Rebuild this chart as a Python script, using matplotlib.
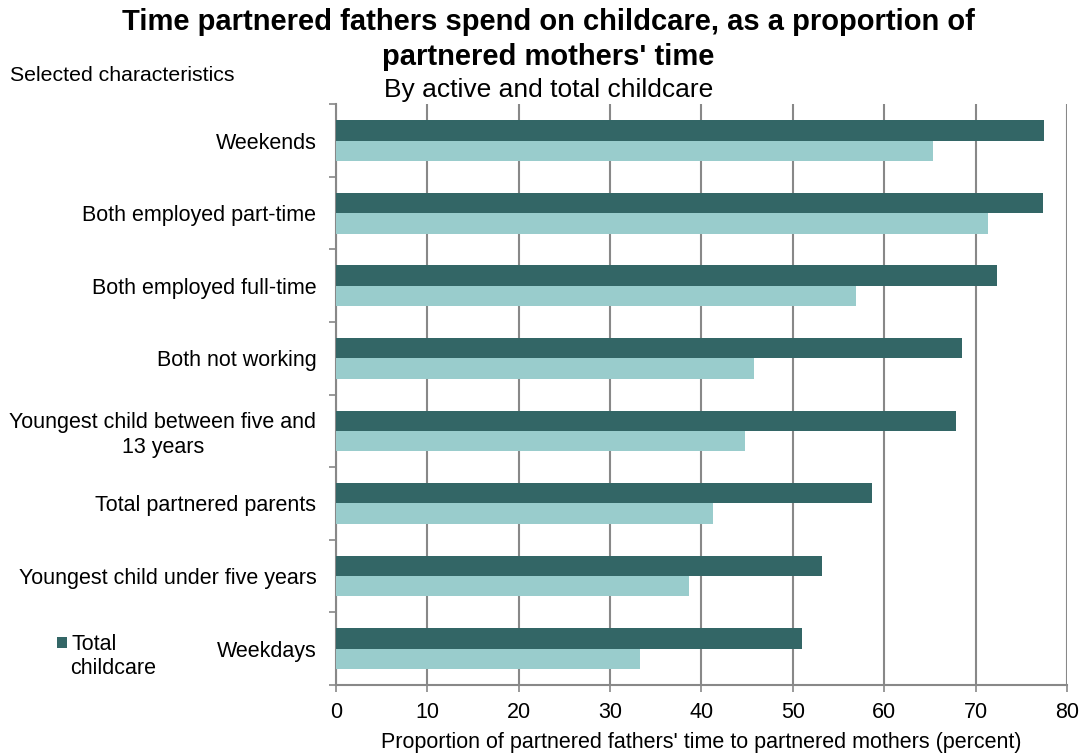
import numpy as np
import matplotlib.pyplot as plt

plt.rcParams['font.family'] = ['Liberation Sans', 'DejaVu Sans']

categories = ['Weekends', 'Both employed part-time', 'Both employed full-time',
              'Both not working', 'Youngest child between five and\n13 years',
              'Total partnered parents', 'Youngest child under five years', 'Weekdays']
total_childcare = [77.5, 77.4, 72.3, 68.5, 67.9, 58.7, 53.2, 51.0]
active_childcare = [65.3, 71.4, 56.9, 45.8, 44.8, 41.3, 38.6, 33.3]

dark = '#336666'
light = '#99cccc'
grey = '#888888'

fig = plt.figure(figsize=(10.8, 7.56), dpi=100)
ax = fig.add_axes([0.311, 0.094, 0.677, 0.768])

n = len(categories)
y = np.arange(n)[::-1].astype(float)
h = 0.28
ax.barh(y + h / 2, total_childcare, height=h, color=dark, label='Total', zorder=3)
ax.barh(y - h / 2, active_childcare, height=h, color=light, label='Active childcare', zorder=3)

ax.set_xlim(0, 80)
ax.set_ylim(-0.5, n - 0.5)
ax.set_xticks(range(0, 81, 10))
ax.tick_params(axis='x', labelsize=15.5, length=5, color=grey, width=1.2, pad=7)
ax.set_yticks(y)
ax.set_yticklabels(categories, fontsize=15.5)
for lbl in ax.get_yticklabels():
    lbl.set_multialignment('center')
ax.tick_params(axis='y', which='major', length=0, pad=14)
ax.set_yticks(np.arange(n + 1) - 0.5, minor=True)
ax.tick_params(axis='y', which='minor', length=5, color=grey, width=1.2)

ax.grid(axis='x', color=grey, linewidth=1.5, zorder=0)
for s in ['top', 'right']:
    ax.spines[s].set_visible(False)
for s in ['left', 'bottom']:
    ax.spines[s].set_color(grey)
    ax.spines[s].set_linewidth(1.5)

ax.set_xlabel("Proportion of partnered fathers' time to partnered mothers (percent)",
              fontsize=15.5, labelpad=7)

# title in two pieces so the long first line does not box over the left note
fig.text(0.508, 0.971, "Time partnered fathers spend on childcare, as a proportion of",
         ha='center', va='center', fontsize=21, fontweight='bold')
fig.text(0.508, 0.925, "partnered mothers' time",
         ha='center', va='center', fontsize=21, fontweight='bold')
fig.text(0.508, 0.881, 'By active and total childcare', ha='center', va='center', fontsize=19)
fig.text(0.009, 0.9, 'Selected characteristics', ha='left', va='center', fontsize=15.3)

handles, labels = ax.get_legend_handles_labels()
fig.legend(handles[:1], labels[:1], loc='center left', bbox_to_anchor=(0.053, 0.147),
           frameon=False, fontsize=15.5, handlelength=0.45, handleheight=0.45,
           handletextpad=0.2, borderaxespad=0, borderpad=0)
fig.text(0.065, 0.116, 'childcare', ha='left', va='center', fontsize=15.5)

fig.savefig('out.png', dpi=100)
